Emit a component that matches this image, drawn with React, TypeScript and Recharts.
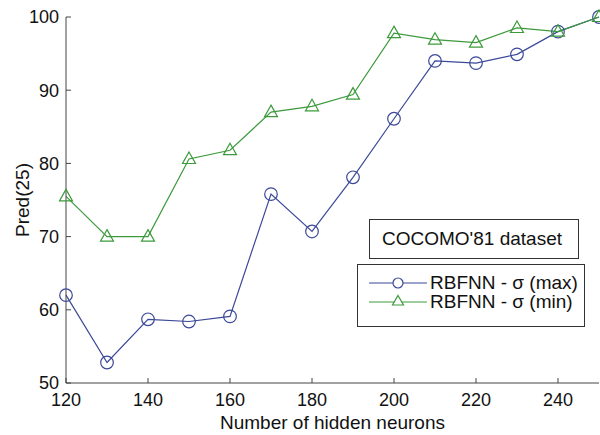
import React from 'react';
import { LineChart, Line, XAxis, YAxis } from 'recharts';

// Pred(25) vs number of hidden neurons, COCOMO'81
const neurons = [120, 130, 140, 150, 160, 170, 180, 190, 200, 210, 220, 230, 240, 250];
const sigmaMax = [62.0, 52.8, 58.7, 58.4, 59.1, 75.8, 70.7, 78.1, 86.1, 94.0, 93.7, 94.9, 98.0, 100];
const sigmaMin = [75.5, 70.0, 70.0, 80.6, 81.8, 87.0, 87.8, 89.4, 97.8, 96.9, 96.5, 98.5, 98.0, 100];
const xTicks = [120, 140, 160, 180, 200, 220, 240];
const yTicks = [50, 60, 70, 80, 90, 100];
const seriesNames = ['RBFNN - σ (max)', 'RBFNN - σ (min)'];

const BLUE = '#3b4898';
const GREEN = '#3c9a3c';
const AXIS = '#444';
const FONT = '"Liberation Sans", Arial, sans-serif';

const data = neurons.map((n, i) => ({ n, max: sigmaMax[i], min: sigmaMin[i] }));

const CircleDot = (props: any) => {
    const { cx, cy, key } = props;
    if (cx == null || cy == null) return null;
    return <circle key={key} cx={cx} cy={cy} r={6.3} fill="none" stroke={BLUE} strokeWidth={1.2} />;
};

const TriangleDot = (props: any) => {
    const { cx, cy, key } = props;
    if (cx == null || cy == null) return null;
    const d = `M${cx},${cy - 7} L${cx + 6.5},${cy + 4.5} L${cx - 6.5},${cy + 4.5} Z`;
    return <path key={key} d={d} fill="none" stroke={GREEN} strokeWidth={1.2} />;
};

// legend with the dataset caption box above it, laid over the plot
const LegendBoxes = () => (
    <div style={{ position: 'absolute', left: 357, top: 219, width: 230, height: 110, fontFamily: FONT, color: '#111' }}>
        <div
            style={{
                position: 'absolute', left: 12, top: 0, width: 210, height: 40,
                border: '1px solid #333', background: '#fff', boxSizing: 'border-box',
                fontSize: 19, lineHeight: '38px', paddingLeft: 12
            }}
        >
            COCOMO'81 dataset
        </div>
        <div
            style={{
                position: 'absolute', left: 0, top: 45, width: 228, height: 63,
                border: '1px solid #333', background: '#fff', boxSizing: 'border-box'
            }}
        >
            {[
                { label: seriesNames[0], color: BLUE, shape: 'circle' },
                { label: seriesNames[1], color: GREEN, shape: 'tri' }
            ].map((it, i) => (
                <div key={i} style={{ position: 'absolute', left: 10, top: 8 + i * 19, height: 19, display: 'flex', alignItems: 'center' }}>
                    <svg width={60} height={19}>
                        <line x1={1} y1={10} x2={59} y2={10} stroke={it.color} strokeWidth={1} />
                        {it.shape === 'circle'
                            ? <circle cx={30} cy={10} r={5} fill="#fff" stroke={it.color} strokeWidth={1.2} />
                            : <path d="M30,3.5 L35.5,13 L24.5,13 Z" fill="#fff" stroke={it.color} strokeWidth={1.2} />}
                    </svg>
                    <span style={{ fontSize: 19, marginLeft: 2, whiteSpace: 'nowrap' }}>{it.label}</span>
                </div>
            ))}
        </div>
    </div>
);

export default function App() {
    return (
        <div style={{ position: 'absolute', left: 0, top: 0, width: 600, height: 435, background: '#fff' }}>
            <LineChart
                width={600}
                height={435}
                data={data}
                margin={{ top: 17, right: 1, bottom: 0, left: 0 }}
                style={{ fontFamily: FONT }}
            >
                <XAxis
                    dataKey="n"
                    type="number"
                    domain={[120, 250]}
                    ticks={xTicks}
                    height={52}
                    tickSize={-5}
                    tickMargin={15}
                    stroke={AXIS}
                    tick={{ fill: '#111', fontSize: 18 }}
                    label={{ value: 'Number of hidden neurons', position: 'insideBottom', offset: 6, fill: '#111', fontSize: 19 }}
                />
                <XAxis
                    xAxisId="top"
                    dataKey="n"
                    type="number"
                    orientation="top"
                    domain={[120, 250]}
                    ticks={xTicks}
                    height={0}
                    tickSize={-5}
                    stroke={AXIS}
                    tickFormatter={() => ''}
                />
                <YAxis
                    type="number"
                    domain={[50, 100]}
                    ticks={yTicks}
                    width={66}
                    tickSize={-5}
                    tickMargin={12}
                    stroke={AXIS}
                    tick={{ fill: '#111', fontSize: 18 }}
                    label={{ value: 'Pred(25)', angle: -90, position: 'insideLeft', offset: 22, fill: '#111', fontSize: 19, style: { textAnchor: 'middle' } }}
                />
                <YAxis
                    yAxisId="right"
                    type="number"
                    orientation="right"
                    domain={[50, 100]}
                    ticks={yTicks}
                    width={0}
                    tickSize={-5}
                    stroke={AXIS}
                    tickFormatter={() => ''}
                />
                <Line
                    dataKey="max"
                    stroke={BLUE}
                    strokeWidth={1.2}
                    dot={<CircleDot />}
                    isAnimationActive={false}
                />
                <Line
                    dataKey="min"
                    stroke={GREEN}
                    strokeWidth={1.2}
                    dot={<TriangleDot />}
                    isAnimationActive={false}
                />
            </LineChart>
            <LegendBoxes />
        </div>
    );
}
